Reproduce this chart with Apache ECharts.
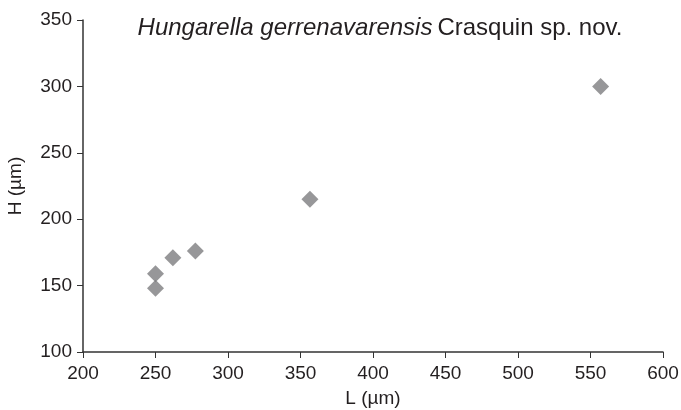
<!DOCTYPE html>
<html>
<head>
<meta charset="utf-8">
<script src="https://cdn.jsdelivr.net/npm/echarts@6/dist/echarts.min.js"></script>
<style>
  html, body { margin: 0; padding: 0; background: #fff; }
  #main { width: 681px; height: 410px; }
</style>
</head>
<body>
<div id="main"></div>
<script>
const lengths = [250, 250, 262, 277.5, 356.5, 557];
const heights = [148, 159, 171, 176, 215, 300];

const xTicks = [200, 250, 300, 350, 400, 450, 500, 550, 600];
const yTicks = [100, 150, 200, 250, 300, 350];

const points = lengths.map((l, i) => [l, heights[i]]);

const chart = echarts.init(document.getElementById('main'));

const font = 'Liberation Sans, Arial, sans-serif';
const axisCommon = {
  axisLine: { show: true, lineStyle: { color: '#333', width: 1.5 } },
  axisTick: { show: true, inside: false, length: 6, lineStyle: { color: '#333', width: 1 } },
  splitLine: { show: false },
  nameTextStyle: { color: '#231f20', fontSize: 19, fontFamily: font }
};

chart.setOption({
  animation: false,
  title: {
    text: '{i|Hungarella gerrenavarensis} {n|Crasquin sp. nov.}',
    left: 375,
    textAlign: 'center',
    top: 11,
    textStyle: {
      rich: {
        i: { fontStyle: 'italic', fontWeight: 'normal', fontSize: 24, color: '#231f20', fontFamily: font },
        n: { fontWeight: 'normal', fontSize: 24, color: '#231f20', fontFamily: font }
      }
    }
  },
  grid: { left: 83, right: 18, top: 20, bottom: 58, containLabel: false, outerBoundsMode: 'none' },
  xAxis: Object.assign({}, axisCommon, {
    type: 'value',
    min: xTicks[0],
    max: xTicks[xTicks.length - 1],
    interval: xTicks[1] - xTicks[0],
    axisLabel: { color: '#231f20', fontSize: 19, fontFamily: font, margin: 12 },
    name: 'L (µm)',
    nameLocation: 'middle',
    nameGap: 37
  }),
  yAxis: Object.assign({}, axisCommon, {
    type: 'value',
    min: yTicks[0],
    max: yTicks[yTicks.length - 1],
    interval: yTicks[1] - yTicks[0],
    axisLabel: { color: '#231f20', fontSize: 19, fontFamily: font, margin: 11 },
    name: 'H (µm)',
    nameLocation: 'middle',
    nameGap: 58
  }),
  series: [{
    type: 'scatter',
    data: points,
    symbol: 'diamond',
    symbolSize: [17, 17],
    itemStyle: { color: '#7d7d80' }
  }]
});
</script>
</body>
</html>
